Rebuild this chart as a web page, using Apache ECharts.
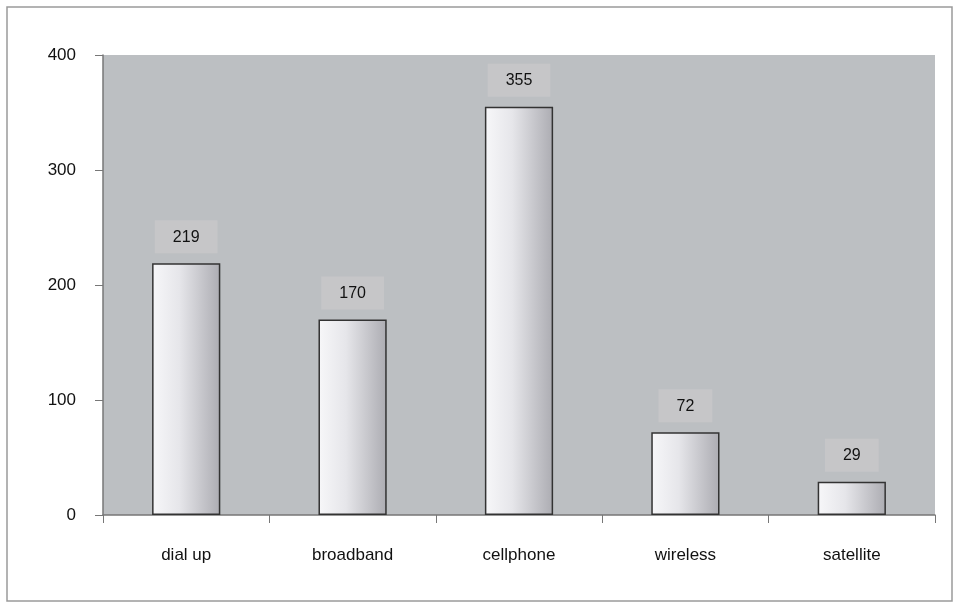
<!DOCTYPE html>
<html>
<head>
<meta charset="utf-8">
<script src="https://cdn.jsdelivr.net/npm/echarts@6/dist/echarts.min.js"></script>
<style>
html,body{margin:0;padding:0;background:#fff;}
#main{width:959px;height:603px;}
</style>
</head>
<body>
<div id="main"></div>
<script>
const categories = ['dial up', 'broadband', 'cellphone', 'wireless', 'satellite'];
const values = [219, 170, 355, 72, 29];
const yTicks = [0, 100, 200, 300, 400];

const chart = echarts.init(document.getElementById('main'));
const option = {
    animation: false,
    backgroundColor: '#ffffff',
    graphic: [{
        type: 'rect',
        shape: {x: 7, y: 7, width: 945, height: 594},
        style: {fill: 'none', stroke: '#9a9a9a', lineWidth: 1.5},
        z: 100
    }],
    grid: {
        left: 103,
        right: 24,
        top: 55,
        bottom: 88,
        show: true,
        backgroundColor: '#bcbfc2',
        borderWidth: 0
    },
    xAxis: {
        type: 'category',
        data: categories,
        axisLine: {lineStyle: {color: '#777', width: 1.5}},
        axisTick: {show: true, alignWithLabel: false, length: 8, lineStyle: {color: '#777'}},
        axisLabel: {color: '#111', fontSize: 17, fontFamily: 'Liberation Sans, Arial', margin: 32}
    },
    yAxis: {
        type: 'value',
        min: yTicks[0],
        max: yTicks[yTicks.length - 1],
        interval: 100,
        axisLine: {show: true, lineStyle: {color: '#777', width: 1.5}},
        axisTick: {show: true, length: 8, lineStyle: {color: '#777'}},
        axisLabel: {color: '#111', fontSize: 17, fontFamily: 'Liberation Sans, Arial', margin: 27},
        splitLine: {show: false}
    },
    series: [{
        type: 'bar',
        data: values,
        barWidth: '41%',
        itemStyle: {
            borderColor: '#333',
            borderWidth: 1.5,
            // 左亮右暗
            color: new echarts.graphic.LinearGradient(0, 0, 1, 0, [
                {offset: 0, color: '#f7f7f9'},
                {offset: 0.4, color: '#e6e6ea'},
                {offset: 1, color: '#acacb2'}
            ])
        },
        label: {
            show: true,
            position: 'top',
            distance: 10,
            color: '#111',
            fontSize: 16,
            fontFamily: 'Liberation Sans, Arial',
            backgroundColor: '#c6c6c8',
            padding: [9, 18, 8, 18]
        }
    }]
};
chart.setOption(option);
</script>
</body>
</html>
